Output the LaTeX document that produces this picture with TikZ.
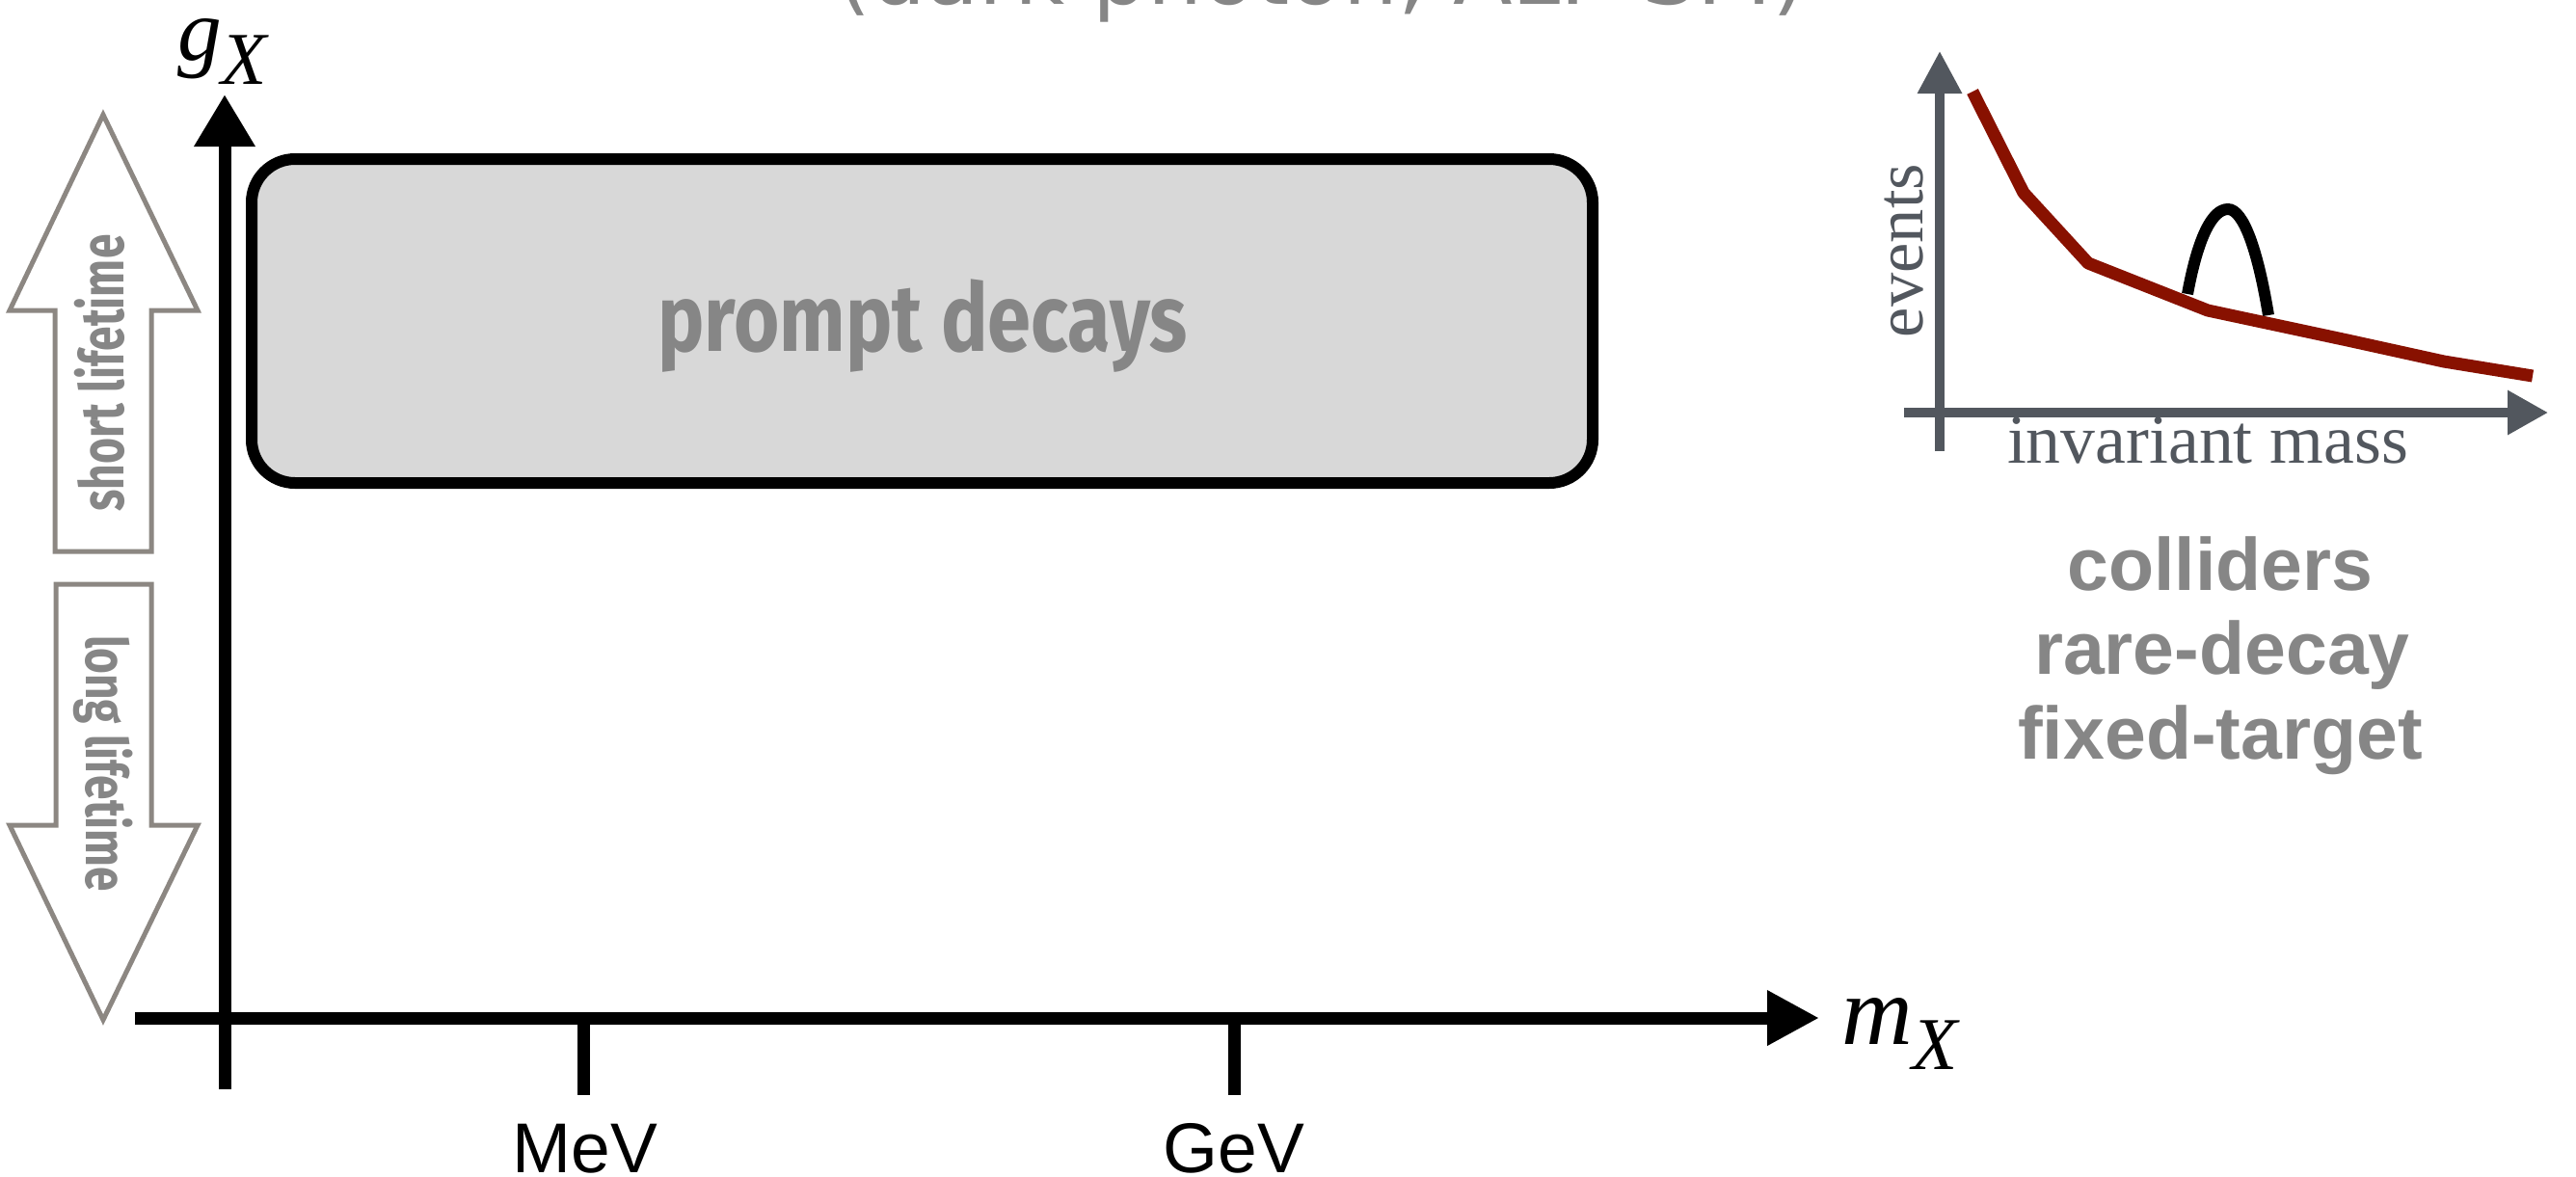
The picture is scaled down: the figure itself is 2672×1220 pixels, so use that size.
\documentclass[tikz,border=0pt]{standalone}
\usepackage{fontspec}
\usepackage{graphicx}
\setmainfont{Liberation Serif}
\newfontfamily\sansf{Liberation Sans}
\newfontfamily\handf{Fira Sans}
\newfontfamily\titlef{DejaVu Sans}
\usetikzlibrary{arrows.meta}
\newlength\pxu
\setlength\pxu{0.01cm}
\definecolor{boxgray}{RGB}{216,216,216}
\definecolor{textgray}{RGB}{134,134,134}
\definecolor{arrowgray}{RGB}{140,135,130}
\definecolor{slate}{RGB}{82,87,94}
\definecolor{darkred}{RGB}{136,17,0}
\newcommand\fitw[2]{\resizebox{#1\pxu}{\height}{#2}}
\begin{document}
\begin{tikzpicture}[x=0.01cm,y=-0.01cm,
  lbl/.style={inner sep=0pt,outer sep=0pt},
  mainaxis/.style={line width=13\pxu,black},
  insetaxis/.style={line width=9.5\pxu,slate},
  life/.style={draw=arrowgray,line width=5\pxu,line join=miter},
  handtxt/.style={lbl,text=textgray,font=\handf\bfseries},
  tick/.style={line width=13\pxu,black},
  ticklbl/.style={lbl,anchor=base,font=\sansf\fontsize{20.8}{24}\selectfont},
  exptxt/.style={lbl,anchor=base,text=textgray,font=\sansf\bfseries\fontsize{21.9}{25}\selectfont}]
\useasboundingbox (0,0) rectangle (2672,1220);
\begin{scope}
\clip (0,0) rectangle (2672,1220);
\node[lbl,anchor=base,text=textgray] (title) at (1371,4) {\fitw{1005}{\titlef\fontsize{25.6}{30}\selectfont (dark photon, ALP-SM)}};
\end{scope}

% prompt decays box
\node[draw,line width=12\pxu,fill=boxgray,rounded corners=45\pxu,
      minimum width=1391\pxu,minimum height=336\pxu,inner sep=0pt] (box) at (956.5,333) {};
\node[handtxt] (prompt) at (957,338) {\fitw{549}{\fontsize{28}{32}\selectfont prompt decays}};

% main axes
\coordinate (yb) at (233,1130);
\coordinate (yt) at (233,98);
\coordinate (xl) at (140,1056);
\coordinate (xr) at (1887,1056);
\draw[mainaxis,-{Triangle[length=15.36pt,width=17.07pt]}] (yb) -- (yt);
\draw[mainaxis,-{Triangle[length=15.36pt,width=15.36pt]}] (xl) -- (xr);
\node[lbl,anchor=base west] (gx) at (184,62) {\fontsize{26}{30}\selectfont\itshape g\raisebox{-25\pxu}{\fontsize{22}{26}\selectfont X}};
\node[lbl,anchor=base west] (mx) at (1910,1083) {\fontsize{29}{34}\selectfont\itshape m\raisebox{-26\pxu}{\fontsize{22}{26}\selectfont X}};

% ticks
\coordinate (mevt) at (605,1056);
\coordinate (mevb) at (605,1136);
\coordinate (gevt) at (1280,1056);
\coordinate (gevb) at (1280,1136);
\draw[tick] (mevt) -- (mevb);
\draw[tick] (gevt) -- (gevb);
\node[ticklbl] (mev) at (607,1216) {MeV};
\node[ticklbl] (gev) at (1280,1216) {GeV};

% lifetime arrows
\draw[life] (107,119) -- (205,322) -- (157,322) -- (157,572) -- (57,572) -- (57,322) -- (10,322) -- cycle;
\draw[life] (58,606) -- (157,606) -- (157,856) -- (205,856) -- (107,1058) -- (10,856) -- (58,856) -- cycle;
\node[handtxt,rotate=90] (short) at (103,387) {\fitw{287}{\fontsize{18}{22}\selectfont short lifetime}};
\node[handtxt,rotate=-90] (long) at (107,792) {\fitw{266}{\fontsize{17}{22}\selectfont long lifetime}};

% inset plot
\coordinate (ivb) at (2012,468);
\coordinate (ivt) at (2012,53);
\coordinate (ihl) at (1975,428);
\coordinate (ihr) at (2643,428);
\draw[insetaxis,-{Triangle[length=12.52pt,width=12.52pt]}] (ivb) -- (ivt);
\draw[insetaxis,-{Triangle[length=11.95pt,width=12.52pt]}] (ihl) -- (ihr);
\draw[line width=12\pxu,black] (2269,305) .. controls (2280,245) and (2295,217) .. (2311,217)
   .. controls (2327,217) and (2342,260) .. (2353,327);
\draw[darkred,line width=13\pxu,line join=round] (2046,95) -- (2099,200) -- (2166,273) -- (2290,322) -- (2435,353) -- (2535,375) -- (2627,390);
\node[lbl,rotate=90,text=slate] (events) at (1975,260) {\fitw{180}{\fontsize{20}{24}\selectfont events}};
\node[lbl,anchor=base,text=slate] (invmass) at (2290,480) {\fitw{416}{\fontsize{20.5}{24}\selectfont invariant mass}};

% experiment types
\node[exptxt] (colliders) at (2303,612) {colliders};
\node[exptxt] (raredecay) at (2305,699) {rare-decay};
\node[exptxt] (fixedtarget) at (2303,787) {fixed-target};
\end{tikzpicture}
\end{document}
